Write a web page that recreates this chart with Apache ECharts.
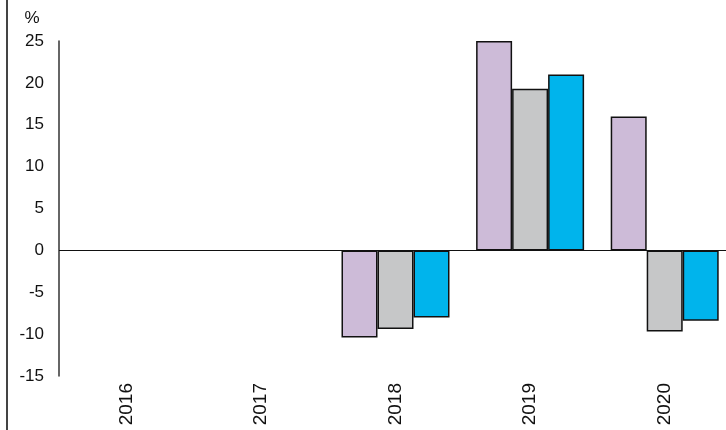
<!DOCTYPE html>
<html>
<head>
<meta charset="utf-8">
<script src="https://cdn.jsdelivr.net/npm/echarts@6/dist/echarts.min.js"></script>
<style>
  html, body { margin: 0; padding: 0; background: #fff; }
  #chart { width: 726px; height: 430px; }
</style>
</head>
<body>
<div id="chart"></div>
<script>
// 数据
const years = ["2016", "2017", "2018", "2019", "2020"];
const seriesA = [null, null, -10.4, 25.0, 16.0];
const seriesB = [null, null, -9.4, 19.3, -9.7];
const seriesC = [null, null, -8.0, 21.0, -8.4];
const yTicks = { min: -15, max: 25, interval: 5 };

const fontFamily = "Liberation Sans, Arial, sans-serif";

function barSeries(name, data, color) {
  return {
    name: name,
    type: "bar",
    data: data,
    barWidth: 36,
    barGap: "0%",
    itemStyle: { color: color, borderColor: "#111", borderWidth: 1.5 }
  };
}

let myChart = echarts.init(document.getElementById("chart"));
const series = [
  barSeries("A", seriesA, "#CDBBD8"),
  barSeries("B", seriesB, "#C6C7C8"),
  barSeries("C", seriesC, "#00B4EC")
];
// 零线
series[0].markLine = {
  silent: true,
  symbol: "none",
  label: { show: false },
  lineStyle: { color: "#111", width: 1.2, type: "solid" },
  data: [{ yAxis: 0 }]
};

myChart.setOption({
  animation: false,
  grid: { left: 59, right: -6, top: 41, bottom: 54, outerBoundsMode: "none", containLabel: false },
  xAxis: {
    type: "category",
    data: years,
    axisLine: { show: false },
    axisTick: { show: false },
    axisLabel: {
      rotate: 90,
      margin: 7,
      color: "#111",
      fontSize: 19,
      fontFamily: fontFamily
    }
  },
  yAxis: {
    type: "value",
    min: yTicks.min,
    max: yTicks.max,
    interval: yTicks.interval,
    name: "%",
    nameGap: 14,
    nameTextStyle: { color: "#111", fontSize: 17, fontFamily: fontFamily, padding: [0, 54, 0, 0] },
    axisLine: { show: true, lineStyle: { color: "#333", width: 1.5 } },
    axisTick: { show: false },
    splitLine: { show: false },
    axisLabel: { color: "#111", fontSize: 17, margin: 15, fontFamily: fontFamily }
  },
  graphic: [
    {
      type: "line",
      shape: { x1: 7, y1: 0, x2: 7, y2: 430 },
      style: { stroke: "#444", lineWidth: 2 }
    }
  ],
  series: series
});
window.onresize = myChart.resize;
</script>
</body>
</html>
